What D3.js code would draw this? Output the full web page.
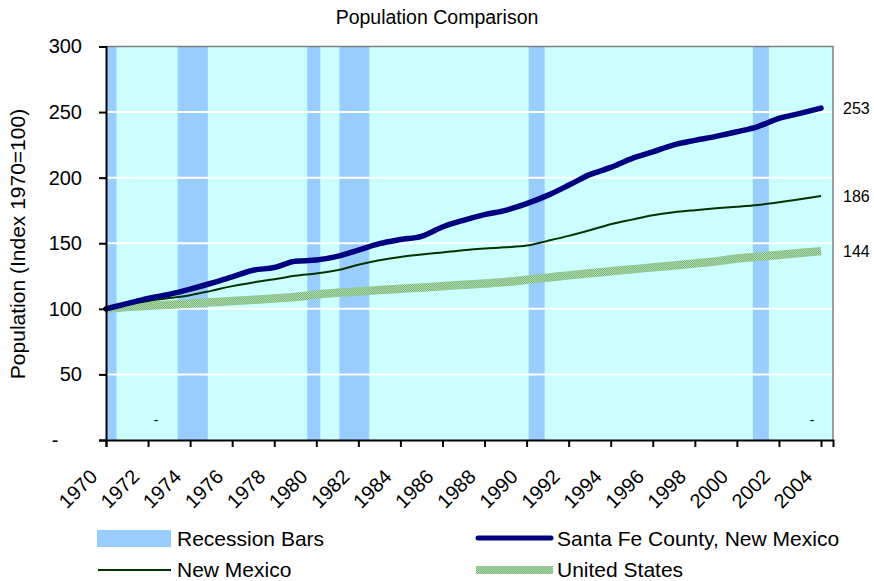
<!DOCTYPE html>
<html>
  <head>
    <meta charset="utf-8">
    <title>Population Comparison</title>
    <script src="https://d3js.org/d3.v7.min.js"></script>
    <style>
      body { margin: 0; background: #fff; }
      svg text { font-family: "Liberation Sans", Arial, sans-serif; fill: #000; }
    </style>
  </head>
  <body>
    <div id="chart"></div>
    <script>

      // Data (index, 1970 = 100)
      var years = d3.range(1970, 2005);
      var santaFe = [100, 104, 108, 111, 115, 119.5, 124.4, 129.4, 131.5, 136.3,
                     137.2, 140, 144.7, 149.7, 152.8, 155.3, 162.4, 167.5, 171.8, 175.1,
                     180.2, 186.5, 194.2, 202.3, 207.8, 214.5, 219.6, 225, 228.4, 231.5,
                     235, 239, 245.2, 249, 253];
      var newMexico = [100, 103.2, 106, 108.2, 110.4, 113.7, 117.3, 120.1, 122.6, 125.2,
                       127, 129.4, 133.6, 137, 139.6, 141.4, 143, 144.7, 146, 146.9,
                       148.2, 151.8, 155.6, 159.9, 164.5, 168, 171.3, 173.6, 175.2, 176.6,
                       177.8, 179.2, 181.2, 183.5, 186];
      var unitedStates = [100, 101.3, 102.3, 103.2, 104, 105, 105.9, 106.9, 107.9, 109,
                          110.9, 112.2, 113.3, 114.3, 115.3, 116.3, 117.3, 118.3, 119.3, 120.4,
                          122.2, 123.8, 125.5, 127.1, 128.6, 130.1, 131.6, 133.1, 134.6, 136.1,
                          138.3, 139.7, 141.1, 142.5, 144];
      // recession bars, in year units as they sit on the axis
      var recessions = [[1970, 1970.5], [1973.41, 1974.84], [1979.57, 1980.19],
                        [1981.1, 1982.52], [1990.1, 1990.86], [2000.76, 2001.52]];
      var yTicks = [0, 50, 100, 150, 200, 250, 300];
      var xTicks = d3.range(1970, 2005, 2);
      var endLabels = [253, 186, 144];

      var width = 874, height = 581;
      var plotLeft = 106, plotRight = 833, plotTop = 46.5, plotBottom = 440;

      var svg = d3.select("#chart").append("svg")
        .attr("width", width)
        .attr("height", height);

      var defs = svg.append("defs");
      var pat = defs.append("pattern")
        .attr("id", "hatch")
        .attr("patternUnits", "userSpaceOnUse")
        .attr("width", 2).attr("height", 2);
      pat.append("rect").attr("width", 2).attr("height", 2).attr("fill", "#a9d9a9");
      pat.append("rect").attr("width", 1).attr("height", 1).attr("fill", "#80b880");
      pat.append("rect").attr("x", 1).attr("y", 1).attr("width", 1).attr("height", 1).attr("fill", "#80b880");

      var x = d3.scaleLinear().domain([1970, 2004.57]).range([plotLeft, plotRight]);
      var y = d3.scaleLinear().domain([0, 300]).range([plotBottom, plotTop]);

      // Plot background
      svg.append("rect")
        .attr("x", plotLeft).attr("y", plotTop)
        .attr("width", plotRight - plotLeft).attr("height", plotBottom - plotTop)
        .attr("fill", "#ccffff");

      // Recession bars
      svg.selectAll(".recession").data(recessions).enter().append("rect")
        .attr("class", "recession")
        .attr("x", function (d) { return x(d[0]); })
        .attr("y", plotTop)
        .attr("width", function (d) { return x(d[1]) - x(d[0]); })
        .attr("height", plotBottom - plotTop)
        .attr("fill", "#99ccff");

      // Gridlines
      svg.selectAll(".grid").data(yTicks.filter(function (d) { return d > 0 && d < 300; }))
        .enter().append("line")
        .attr("x1", plotLeft).attr("x2", plotRight)
        .attr("y1", function (d) { return y(d); })
        .attr("y2", function (d) { return y(d); })
        .attr("stroke", "#fff").attr("stroke-width", 2);

      // Frame: gray top and right
      svg.append("path")
        .attr("d", "M" + plotLeft + "," + plotTop + "H" + plotRight + "V" + plotBottom)
        .attr("fill", "none").attr("stroke", "#808080").attr("stroke-width", 1.5);

      // "-" data labels near the bottom
      svg.append("text").attr("x", 156).attr("y", 425).attr("text-anchor", "middle")
        .style("font-size", "14px").text("-");
      svg.append("text").attr("x", 812).attr("y", 425).attr("text-anchor", "middle")
        .style("font-size", "14px").text("-");

      // Lines
      var line = function (vals) {
        return d3.line()
          .x(function (d, i) { return x(years[i]); })
          .y(function (d) { return y(d); })
          .curve(d3.curveMonotoneX)(vals);
      };

      svg.append("path").attr("d", line(unitedStates))
        .attr("fill", "none").attr("stroke", "url(#hatch)").attr("stroke-width", 8.5);
      svg.append("path").attr("d", line(newMexico))
        .attr("fill", "none").attr("stroke", "#003300").attr("stroke-width", 2);
      svg.append("path").attr("d", line(santaFe))
        .attr("fill", "none").attr("stroke", "#000080").attr("stroke-width", 5.5)
        .attr("stroke-linecap", "round").attr("stroke-linejoin", "round");

      // End labels
      svg.selectAll(".endlabel").data(endLabels).enter().append("text")
        .attr("x", 843)
        .attr("y", function (d) { return y(d); })
        .attr("dy", "0.35em")
        .style("font-size", "16px")
        .text(function (d) { return d; });

      // Y axis
      var yAxis = svg.append("g")
        .attr("transform", "translate(" + plotLeft + ",0)")
        .call(d3.axisLeft(y).tickValues(yTicks).tickSize(7).tickPadding(17)
          .tickFormat(function (d) { return d === 0 ? "-" : d; }));
      yAxis.select(".domain").attr("stroke", "#000").attr("stroke-width", 2);
      yAxis.selectAll(".tick line").attr("stroke", "#000").attr("stroke-width", 2);
      yAxis.selectAll(".tick text").style("font-size", "20px");
      yAxis.selectAll(".tick text").filter(function (d) { return d === 0; })
        .attr("text-anchor", "middle").attr("x", 55 - plotLeft);

      // X axis
      var xAxis = svg.append("g")
        .attr("transform", "translate(0," + plotBottom + ")")
        .call(d3.axisBottom(x).tickValues(xTicks).tickSize(7)
          .tickFormat(function (d) { return d; }));
      xAxis.select(".domain").attr("stroke", "#000").attr("stroke-width", 2);
      xAxis.selectAll(".tick line").attr("stroke", "#000").attr("stroke-width", 2);
      xAxis.selectAll(".tick text")
        .style("font-size", "20px")
        .attr("text-anchor", "end")
        .attr("y", 0).attr("dy", 0)
        .attr("transform", "translate(-8,38) rotate(-45)");

      // Title
      svg.append("text")
        .attr("x", 437).attr("y", 24)
        .attr("text-anchor", "middle")
        .style("font-size", "19.5px")
        .text("Population Comparison");

      // Y axis title
      svg.append("text")
        .attr("transform", "translate(25,244) rotate(-90)")
        .attr("text-anchor", "middle")
        .style("font-size", "21px")
        .text("Population (Index 1970=100)");

      // Legend
      var legend = svg.append("g");
      legend.append("rect").attr("x", 97).attr("y", 530).attr("width", 74).attr("height", 17)
        .attr("fill", "#99ccff");
      legend.append("text").attr("x", 177).attr("y", 545.5).style("font-size", "21px").text("Recession Bars");

      legend.append("line").attr("x1", 98).attr("x2", 171).attr("y1", 570).attr("y2", 570)
        .attr("stroke", "#003300").attr("stroke-width", 2);
      legend.append("text").attr("x", 177).attr("y", 576.5).style("font-size", "21px").text("New Mexico");

      legend.append("line").attr("x1", 478).attr("x2", 551).attr("y1", 538).attr("y2", 538)
        .attr("stroke", "#000080").attr("stroke-width", 5).attr("stroke-linecap", "round");
      legend.append("text").attr("x", 557).attr("y", 545.5).style("font-size", "21px").text("Santa Fe County, New Mexico");

      legend.append("rect").attr("x", 476).attr("y", 566).attr("width", 77).attr("height", 8)
        .attr("fill", "url(#hatch)");
      legend.append("text").attr("x", 557).attr("y", 576.5).style("font-size", "21px").text("United States");

    </script>
  </body>
</html>
